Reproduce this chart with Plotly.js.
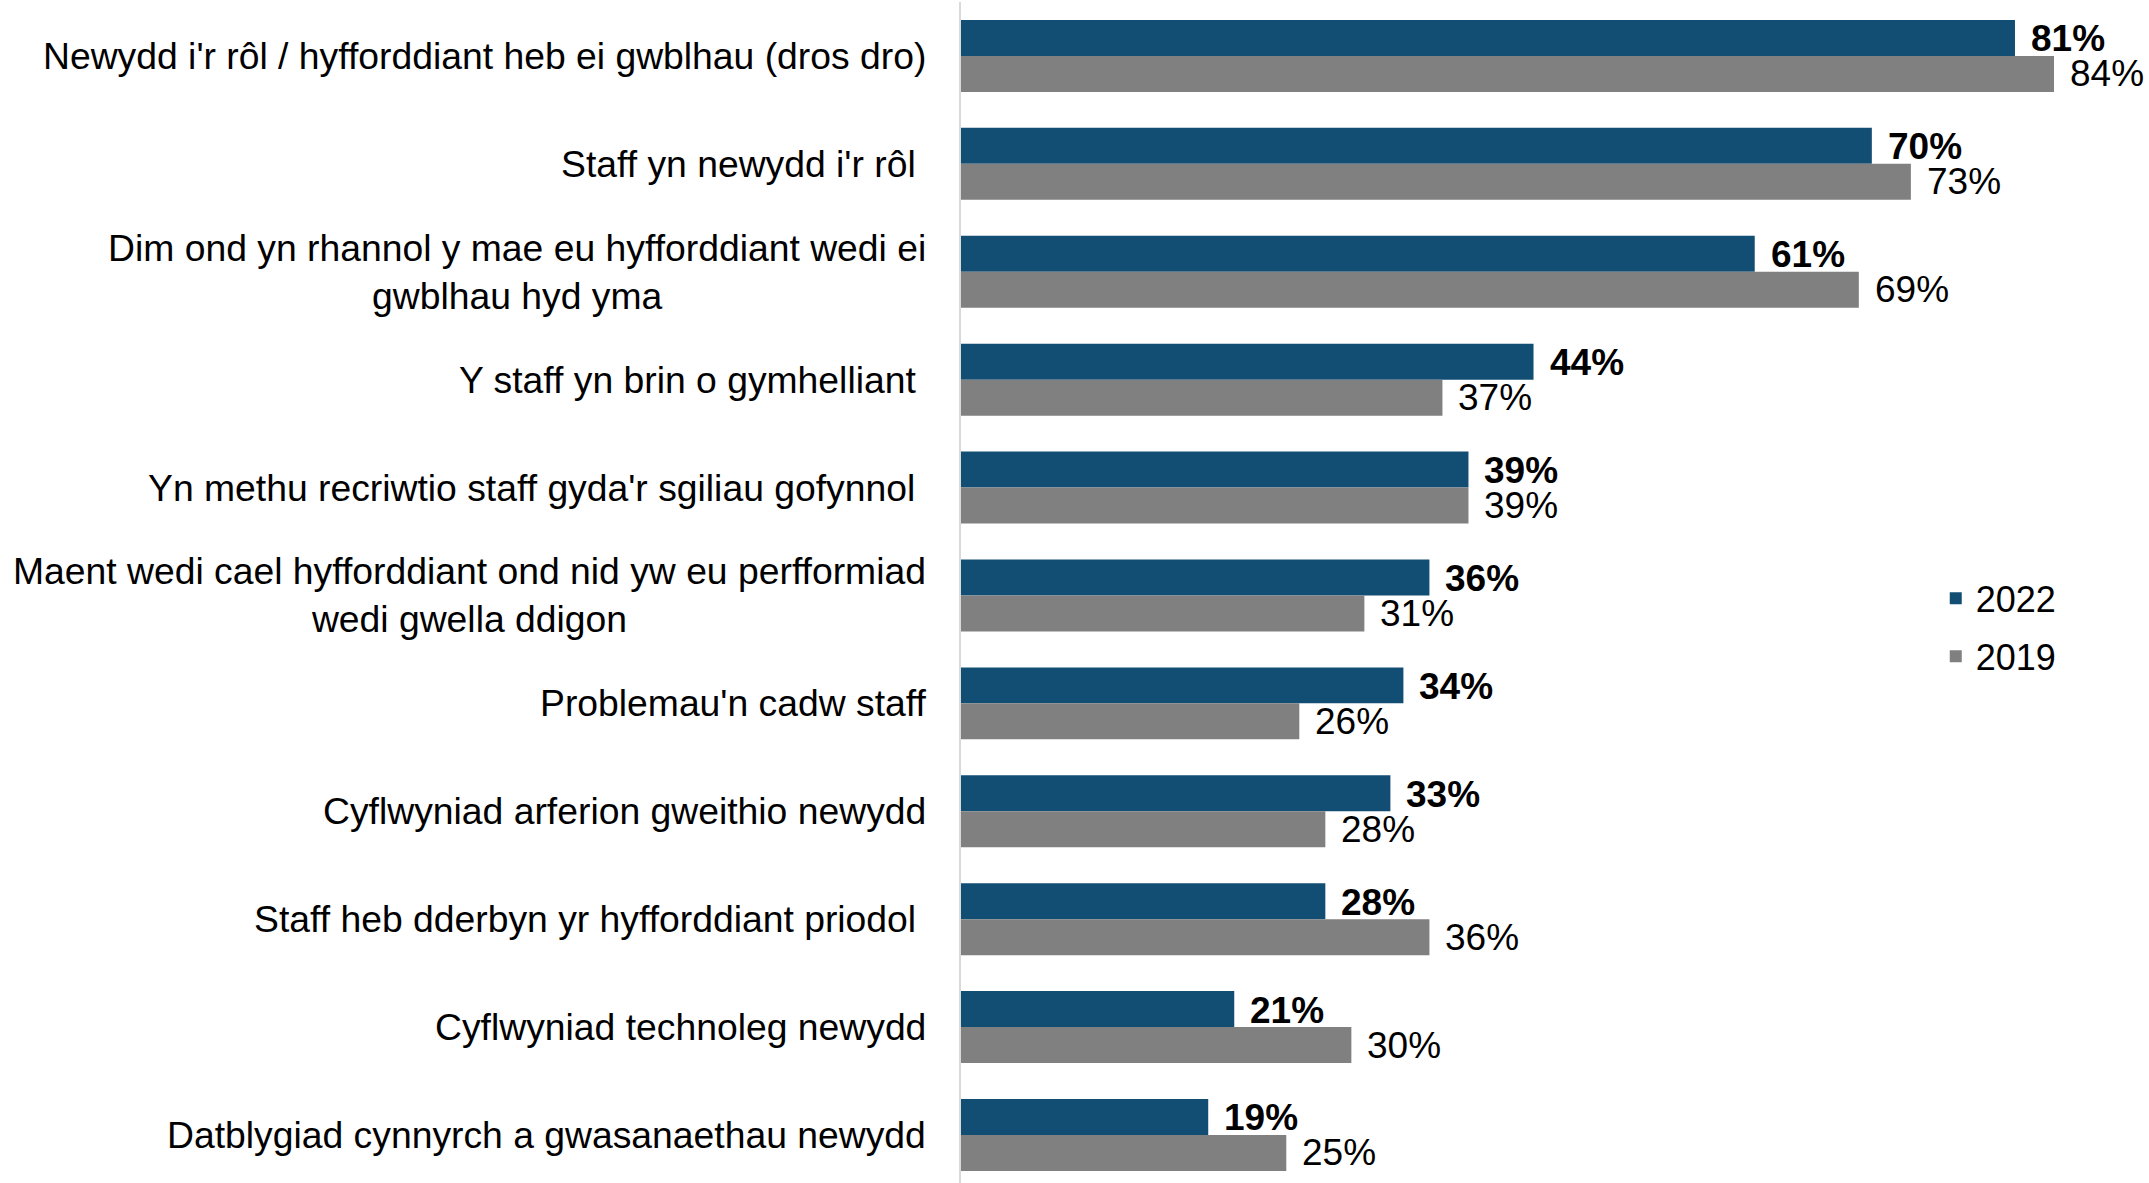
<!DOCTYPE html>
<html>
<head>
<meta charset="utf-8">
<script src="https://cdn.plot.ly/plotly-3.0.1.min.js"></script>
<style>html,body{margin:0;padding:0;background:#fff;}#chart{width:2149px;height:1183px;}</style>
</head>
<body>
<div id="chart"></div>
<script>
const categories = [
  "Newydd i'r rôl / hyfforddiant heb ei gwblhau (dros dro)",
  "Staff yn newydd i'r rôl ",
  "Dim ond yn rhannol y mae eu hyfforddiant wedi ei<br>gwblhau hyd yma",
  "Y staff yn brin o gymhelliant ",
  "Yn methu recriwtio staff gyda'r sgiliau gofynnol ",
  "Maent wedi cael hyfforddiant ond nid yw eu perfformiad<br>wedi gwella ddigon",
  "Problemau'n cadw staff",
  "Cyflwyniad arferion gweithio newydd",
  "Staff heb dderbyn yr hyfforddiant priodol ",
  "Cyflwyniad technoleg newydd",
  "Datblygiad cynnyrch a gwasanaethau newydd"
];
const values2022 = [81, 70, 61, 44, 39, 36, 34, 33, 28, 21, 19];
const values2019 = [84, 73, 69, 37, 39, 31, 26, 28, 36, 30, 25];
const seriesNames = ["2022", "2019"];

const FONT = "Liberation Sans, Arial, Helvetica, sans-serif";
const BLUE = "#124e73";
const GREY = "#808080";

const traces = [
  {type: "bar", orientation: "h", name: seriesNames[0], legendgroup: "a", y: categories, x: values2022,
   marker: {color: BLUE}, hoverinfo: "skip"},
  {type: "bar", orientation: "h", name: seriesNames[1], legendgroup: "b", y: categories, x: values2019,
   marker: {color: GREY}, hoverinfo: "skip"}
];

const annotations = [];
categories.forEach((c, i) => {
  annotations.push({
    x: 0, y: c, xref: "x", yref: "y", xanchor: "right", yanchor: "middle",
    xshift: -33, align: "center", showarrow: false,
    text: c.replace(/ +$/, "\u00a0"),
    font: {family: FONT, size: 37.3, color: "#000"}
  });
  annotations.push({
    x: values2022[i], y: c, xref: "x", yref: "y", xanchor: "left", yanchor: "middle",
    xshift: 15, yshift: 17, showarrow: false, borderpad: 0,
    text: "<b>" + values2022[i] + "%</b>",
    font: {family: FONT, size: 37, color: "#000"}
  });
  annotations.push({
    x: values2019[i], y: c, xref: "x", yref: "y", xanchor: "left", yanchor: "middle",
    xshift: 15, yshift: -18, showarrow: false, borderpad: 0,
    text: values2019[i] + "%",
    font: {family: FONT, size: 37, color: "#000"}
  });
});

const layout = {
  width: 2149, height: 1183,
  margin: {l: 961, r: 0, t: 2, b: 0, pad: 0, autoexpand: false},
  paper_bgcolor: "#ffffff", plot_bgcolor: "#ffffff",
  barmode: "group", bargap: 0.333, bargroupgap: 0,
  font: {family: FONT, size: 36, color: "#000"},
  xaxis: {range: [0, 91.3], showgrid: false, zeroline: false, showticklabels: false,
          ticks: "", showline: false, fixedrange: true},
  yaxis: {type: "category", categoryorder: "array", categoryarray: categories,
          range: [10.445, -0.5], autorange: false, showticklabels: false, ticks: "",
          showgrid: false, zeroline: false, showline: true, linecolor: "#d9d9d9",
          linewidth: 2, fixedrange: true},
  showlegend: true,
  legend: {xref: "paper", yref: "paper", x: 0.8205, y: 0.4704,
           xanchor: "left", yanchor: "middle", traceorder: "grouped",
           font: {family: FONT, size: 36, color: "#000"}, bgcolor: "rgba(0,0,0,0)",
           tracegroupgap: 8},
  annotations: annotations
};

Plotly.newPlot("chart", traces, layout, {displayModeBar: false, staticPlot: true});
</script>
</body>
</html>
